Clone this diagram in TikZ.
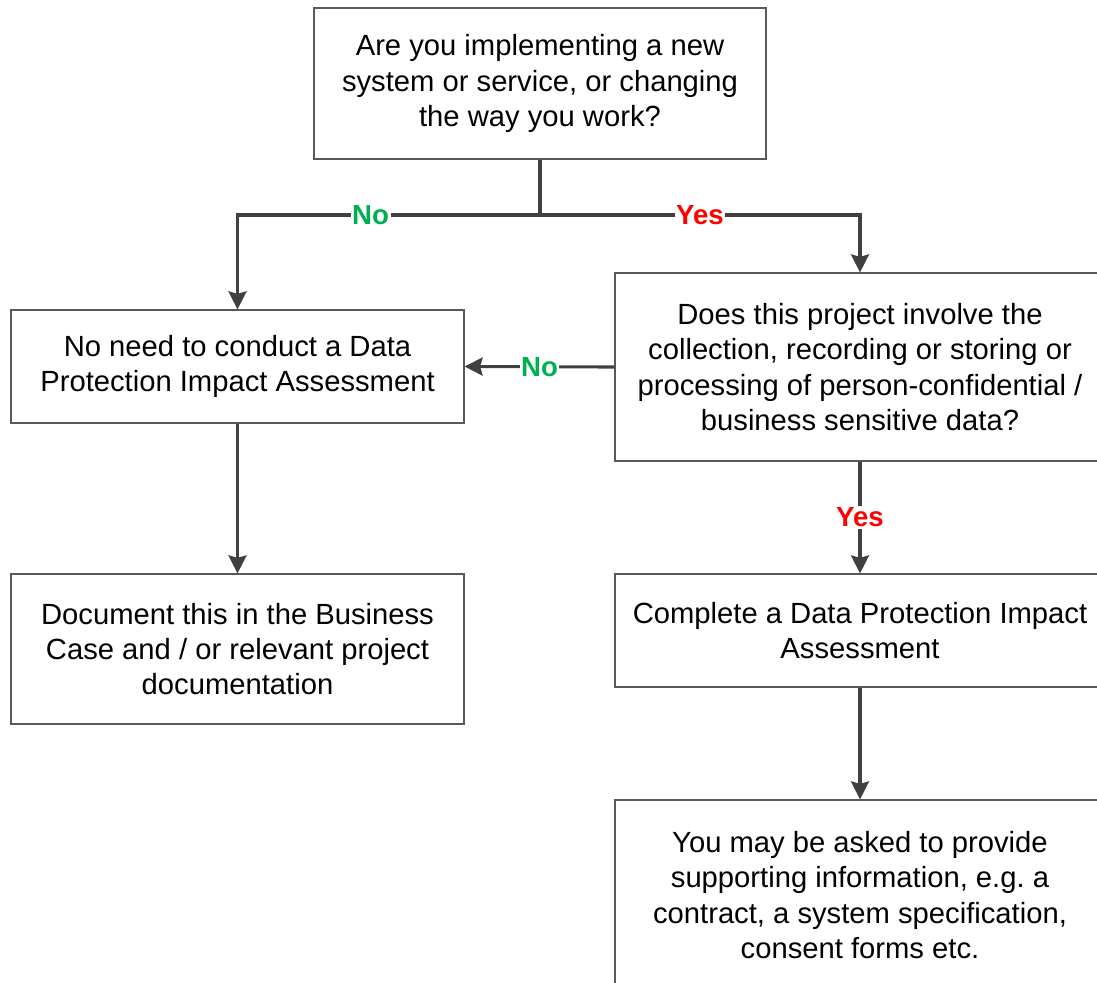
\documentclass[tikz,border=0pt]{standalone}
\usepackage{fontspec}
\setmainfont{Liberation Sans}
\usetikzlibrary{arrows.meta}
\definecolor{boxline}{HTML}{595959}
\definecolor{conn}{HTML}{404040}
\definecolor{nogreen}{HTML}{00B050}
\definecolor{yesred}{HTML}{FF0000}
\frenchspacing
\begin{document}
\begin{tikzpicture}[x=1pt,y=-1pt,
  box/.style={draw=boxline,line width=1.2pt,fill=white,rectangle,inner sep=0pt,align=center,
    font=\fontsize{29.2}{35.3}\selectfont},
  link/.style={draw=conn,line width=3.1pt},
  arr/.style={link,-{Stealth[length=18pt,width=18pt,inset=2.5pt]}},
  lbl/.style={fill=white,inner sep=1.5pt,font=\fontsize{27.6}{30}\selectfont\bfseries}]
\useasboundingbox (0,0) rectangle (1097,982);
\clip (0,0) rectangle (1097,982);
\fill[white] (0,0) rectangle (1097,982);
\node[box,minimum width=452pt,minimum height=151pt] (q1) at (540,83.5)
  {Are you implementing a new\\system or service, or changing\\the way you work?};
\node[box,minimum width=453pt,minimum height=113pt] (nn) at (237.5,366.5)
  {No need to conduct a Data\\Protection Impact Assessment};
\node[box,minimum width=490pt,minimum height=188pt] (dq) at (860,367)
  {Does this project involve the\\collection, recording or storing or\\processing of person-confidential /\\business sensitive data?};
\node[box,minimum width=453pt,minimum height=150pt] (doc) at (237.5,649)
  {Document this in the Business\\Case and / or relevant project\\documentation};
\node[box,minimum width=490pt,minimum height=113pt] (cd) at (860,630.5)
  {Complete a Data Protection Impact\\Assessment};
\node[box,minimum width=490pt,minimum height=190pt] (ym) at (860,895)
  {You may be asked to provide\\supporting information, e.g. a\\contract, a system specification,\\consent forms etc.};
\coordinate (j) at (540,215);
\draw[link] (q1.south) -- (j);
\draw[arr] (j) -| node[lbl,text=nogreen,pos=0.28]{No} (nn.north);
\draw[arr] (j) -| node[lbl,text=yesred,pos=0.25]{Yes} (dq.north);
\draw[arr] (dq.west) -- node[lbl,text=nogreen]{No} (nn.east);
\draw[arr] (dq.south) -- node[lbl,text=yesred]{Yes} (cd.north);
\draw[arr] (nn.south) -- (doc.north);
\draw[arr] (cd.south) -- (ym.north);
\end{tikzpicture}
\end{document}
